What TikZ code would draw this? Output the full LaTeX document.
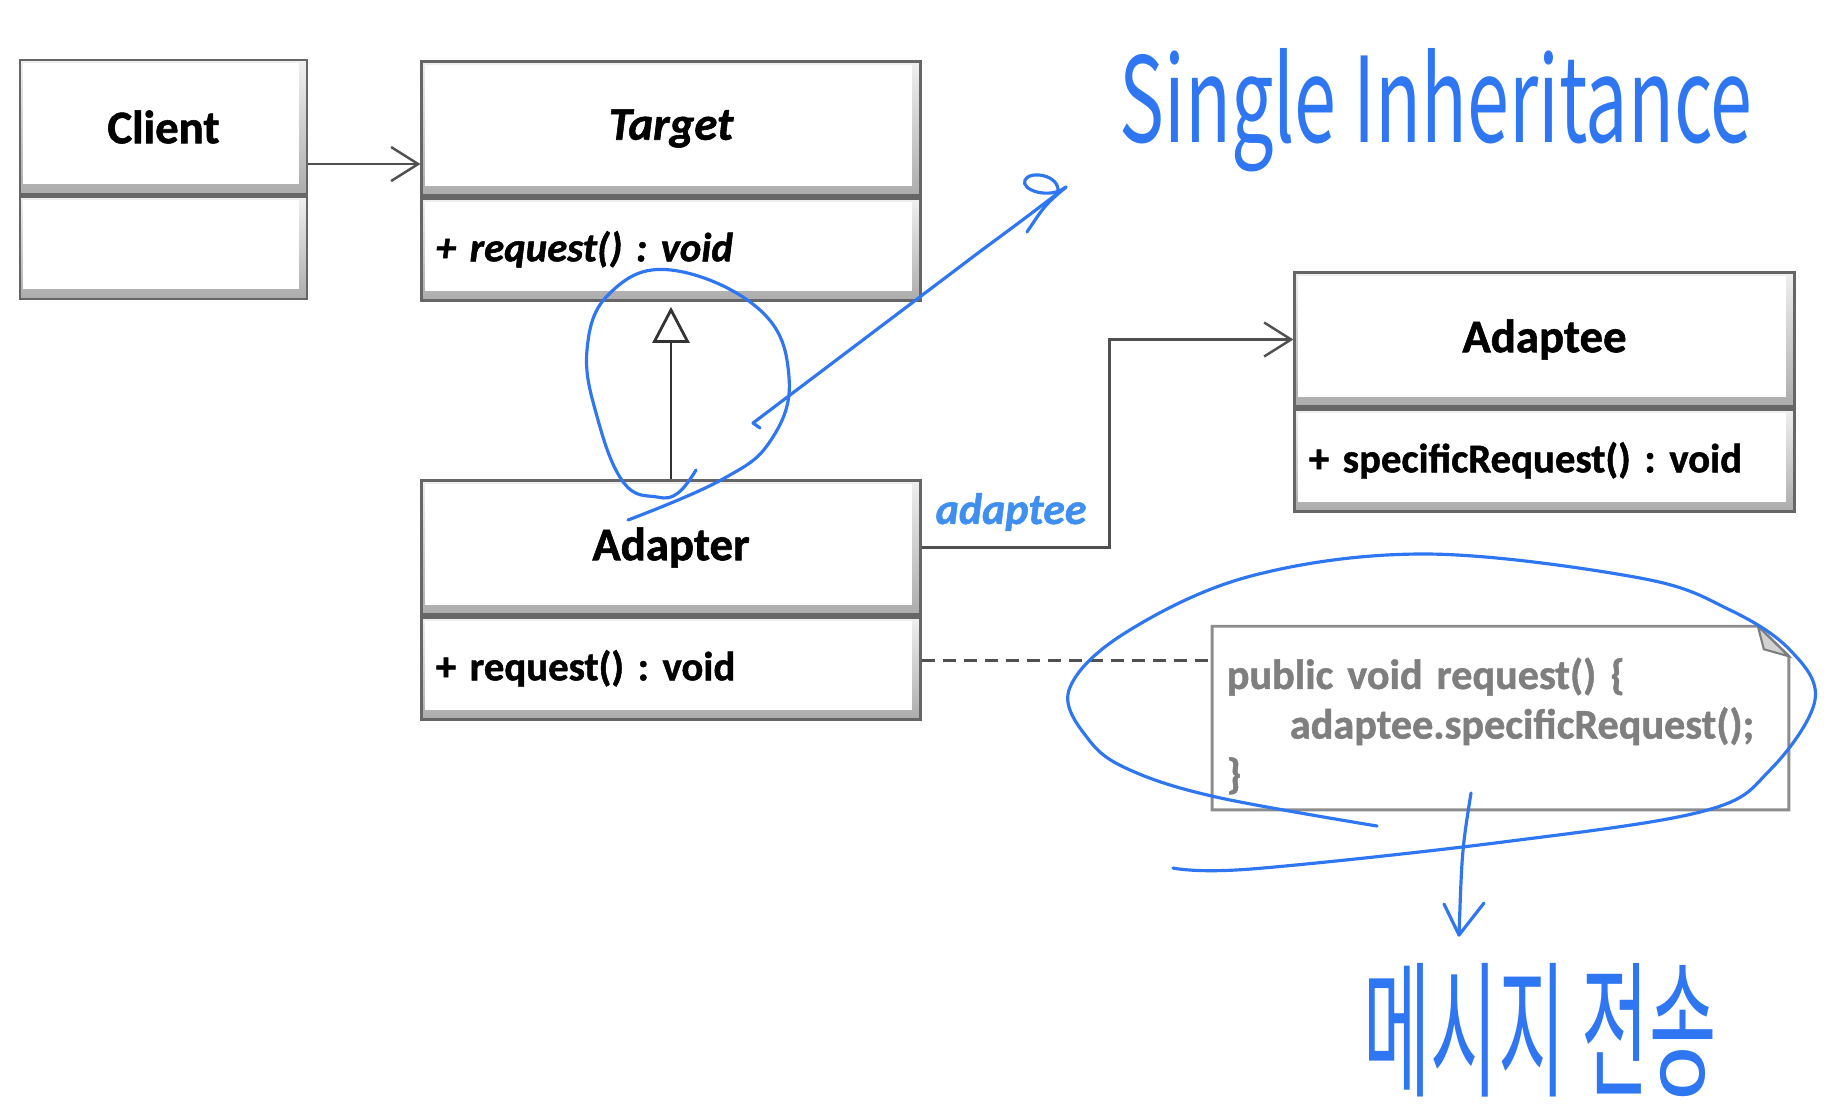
\documentclass[tikz,border=0pt]{standalone}
\usepackage{fontspec}
\usepackage{graphicx}
\setmainfont{Carlito}[BoldFeatures={FakeBold=1.2}, BoldItalicFeatures={FakeBold=1.2}]
\newfontfamily\handfont{Noto Sans CJK KR}
\usetikzlibrary{arrows.meta,positioning}

\definecolor{boxline}{HTML}{666666}
\definecolor{linkgray}{HTML}{505050}
\definecolor{notegray}{HTML}{7F7F7F}
\definecolor{rolecolor}{HTML}{3F8FF0}
\definecolor{handblue}{HTML}{2F76F2}

\begin{document}
\frenchspacing
\begin{tikzpicture}[x=0.01cm, y=-0.01cm,
    bevel/.style={draw=boxline, line width=0.8pt, top color=gray!12, bottom color=gray!65,
      path picture={\fill[white] ([shift={(1pt,-1pt)}]path picture bounding box.north west)
        rectangle ([shift={(-2.4pt,2.8pt)}]path picture bounding box.south east);}},
    classname/.style={bevel, minimum height=1.34cm, font=\fontsize{13.3pt}{16pt}\selectfont\bfseries},
    classmember/.style={bevel, minimum height=1.02cm, inner xsep=0.14cm, align=left,
      font=\fontsize{11.6pt}{14pt}\selectfont\bfseries},
    assoc/.style={draw=linkgray, line width=0.7pt, -{Straight Barb[length=0.27cm, width=0.34cm]}},
    inherit/.style={draw=black!80, line width=0.8pt, shorten >=0.05cm,
      -{Triangle[open, fill=white, length=0.36cm, width=0.37cm]}},
    notebox/.style={minimum width=5.75cm, minimum height=1.82cm, text width=5.47cm, inner xsep=0.14cm,
      align=left, text=notegray, font=\fontsize{12pt}{14.1pt}\selectfont\bfseries},
    rolelabel/.style={text=rolecolor, font=\fontsize{12.5pt}{15pt}\selectfont\bfseries\itshape},
    hand/.style={draw=handblue, line width=0.9pt, line cap=round, line join=round},
]
    \useasboundingbox (0,0) rectangle (1838,1108);

    % Draw the classes
    \node[classname, minimum width=2.87cm] (client) at (163.5,127) {Client};
    \node[classmember, text width=2.59cm, below=0pt of client] (clientm) {};
    \node[classname, minimum width=4.98cm] (target) at (671,128.5) {\itshape Target};
    \node[classmember, text width=4.7cm, below=0pt of target] (targetm) {\itshape + request() : void};
    \node[classname, minimum width=4.98cm] (adapter) at (671,547.5) {Adapter};
    \node[classmember, text width=4.7cm, below=0pt of adapter] (adapterm) {+ request() : void};
    \node[classname, minimum width=4.99cm] (adaptee) at (1544.5,339.5) {Adaptee};
    \node[classmember, text width=4.71cm, below=0pt of adaptee] (adapteem) {+ specificRequest() : void};

    % Draw the note with its folded corner
    \node[notebox] (note) at (1500.5,726) {public void request() \{\\
      \hspace*{0.63cm}adaptee.specificRequest();\\
      \}};
    \draw[notegray!90, line width=0.85pt] ([yshift=0.08cm]note.north west)
      -- ([xshift=-0.31cm, yshift=0.08cm]note.north east)
      -- ([yshift=-0.22cm]note.north east) -- ([yshift=0.08cm]note.south east)
      -- ([yshift=0.08cm]note.south west) -- cycle;
    \filldraw[fill=gray!35, draw=notegray, line width=0.6pt] ([xshift=-0.31cm, yshift=0.08cm]note.north east)
      -- ([xshift=-0.25cm, yshift=-0.15cm]note.north east) -- ([yshift=-0.22cm]note.north east) -- cycle;

    % Draw the relations
    \coordinate (uses) at ([yshift=-0.37cm]client.east);
    \draw[assoc] (uses) -- (uses -| target.west);
    \draw[inherit] (adapter.north) -- (targetm.south);
    \draw[assoc] (adapter.east) -- ++(188,0) |- (adaptee.west);
    \node[rolelabel] (adapteerole) at (1011,512) {adaptee};
    \draw[linkgray, line width=0.7pt, dash pattern=on 0.13cm off 0.08cm]
      ([yshift=0.08cm]adapterm.east) -- ([yshift=0.08cm]adapterm.east -| note.west);

    % Handwritten notes
    \node[text=handblue] (inhnote) at (1436,110)
      {\scalebox{0.67}[1.05]{\handfont\fontsize{32pt}{32pt}\selectfont Single Inheritance}};
    \node[text=handblue] (krnote) at (1540,1030)
      {\scalebox{0.52}[1.05]{\handfont\fontsize{40pt}{40pt}\selectfont 메시지 전송}};

    % Loop round the inheritance arrow, stroke to its label
    \draw[hand] plot[smooth, tension=0.7] coordinates {(696,470) (678,493) (657,497) (624,483)
      (598,420) (587,350) (610,293) (671,270) (760,310) (789,377) (771,440) (721,480) (628,520)};
    \coordinate (inhfrom) at (753,423);
    \coordinate (inhtip) at (1066,187);
    \draw[hand] (760,428) -- (inhfrom) -- (982,250) .. controls (1020,222) .. (inhtip);
    \draw[hand] (1027,232) .. controls (1045,205) .. (inhtip);
    \draw[hand] (inhtip) .. controls (1050,200) and (1020,190) .. (1025,180)
      .. controls (1030,170) and (1060,175) .. (1058,192);

    % Loop round the note, stroke down to the Korean words
    \draw[hand] plot[smooth, tension=0.6] coordinates {(1173,868) (1251,869) (1503,842) (1704,811)
      (1770,770) (1815,700) (1790,650) (1730,610) (1640,578) (1427,554) (1251,576) (1125,633)
      (1069,690) (1089,740) (1130,770) (1216,797) (1377,826)};
    \coordinate (sendfrom) at (1471,793);
    \coordinate (sendtip) at (1459,935);
    \draw[hand] (sendfrom) .. controls (1462,850) .. (sendtip);
    \draw[hand] (1444,904) -- (sendtip) -- (1484,903);
\end{tikzpicture}
\end{document}
